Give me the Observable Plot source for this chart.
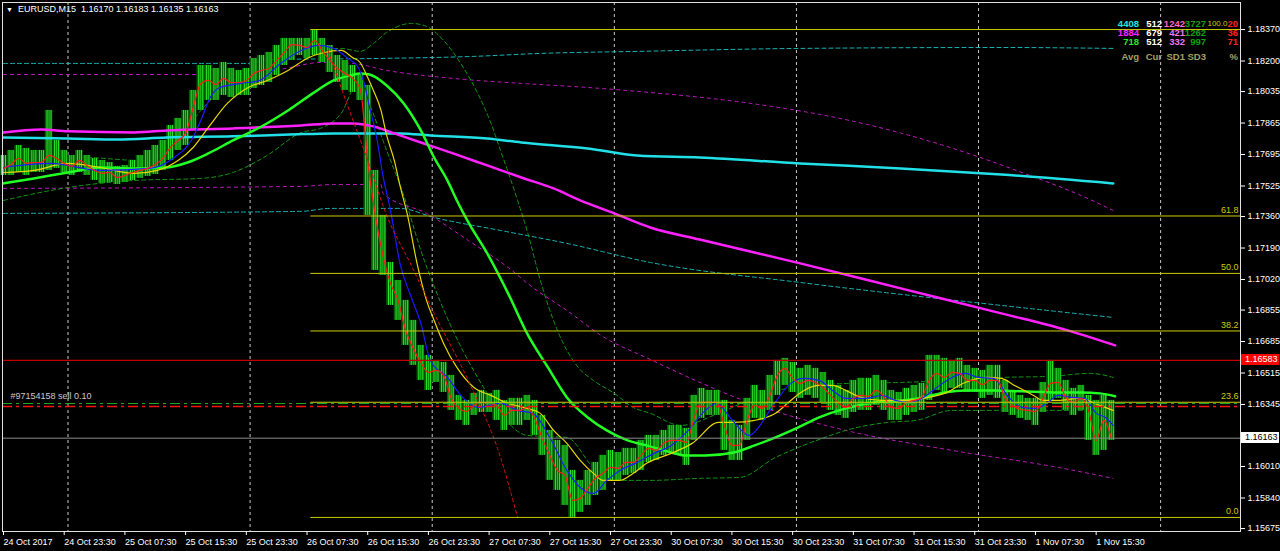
<!DOCTYPE html>
<html><head><meta charset="utf-8">
<script src="https://cdn.jsdelivr.net/npm/d3@7"></script>
<script src="https://cdn.jsdelivr.net/npm/@observablehq/plot@0.6"></script>
<style>
html,body{margin:0;padding:0;background:#000;overflow:hidden;}
#wrap{position:relative;width:1280px;height:551px;font-family:"Liberation Sans",Arial,sans-serif;}
.ov{position:absolute;white-space:nowrap;line-height:10px;}
</style></head>
<body><div id="wrap"></div>
<script>
// ---------- DATA ----------
const timeTickIdx = [0,32,64,96,128,160,192,224,256,288,320,352,384,416,448,480,512,544,576];
const timeLabels = ["24 Oct 2017","24 Oct 23:30","25 Oct 07:30","25 Oct 15:30","25 Oct 23:30","26 Oct 07:30","26 Oct 15:30","26 Oct 23:30","27 Oct 07:30","27 Oct 15:30","27 Oct 23:30","30 Oct 07:30","30 Oct 15:30","30 Oct 23:30","31 Oct 07:30","31 Oct 15:30","31 Oct 23:30","1 Nov 07:30","1 Nov 15:30"];
const midnightIdx = [34,130,226,322,418,514,610];
const yTicks = [1.18370,1.18200,1.18035,1.17865,1.17695,1.17525,1.17360,1.17190,1.17020,1.16855,1.16685,1.16515,1.16345,1.16010,1.15840,1.15675];

const barStep = 4; // one entry per hour (4 x M15 bars)
const barHigh = [1.17690,1.17717,1.17744,1.17728,1.17717,1.17717,1.17933,1.17771,1.17717,1.17690,
1.17717,1.17690,1.17674,1.17663,1.17652,1.17631,1.17636,1.17663,1.17690,1.17717,
1.17744,1.17771,1.17852,1.17890,1.17933,1.18041,1.18176,1.18176,1.18160,1.18192,
1.18160,1.18149,1.18160,1.18214,1.18230,1.18246,1.18284,1.18322,1.18322,1.18322,
1.18322,1.18365,1.18322,1.18284,1.18230,1.18203,1.18176,1.18122,1.18068,1.17609,
1.17366,1.17112,1.17015,1.16907,1.16799,1.16664,1.16610,1.16583,1.16572,1.16502,
1.16394,1.16367,1.16405,1.16421,1.16405,1.16421,1.16367,1.16378,1.16378,1.16394,
1.16367,1.16286,1.16205,1.16151,1.16124,1.15989,1.15935,1.15989,1.16032,1.16070,
1.16097,1.16086,1.16108,1.16108,1.16151,1.16178,1.16178,1.16205,1.16232,1.16232,
1.16216,1.16394,1.16432,1.16421,1.16421,1.16367,1.16259,1.16232,1.16378,1.16448,
1.16421,1.16502,1.16583,1.16594,1.16572,1.16540,1.16556,1.16540,1.16518,1.16475,
1.16448,1.16421,1.16475,1.16486,1.16486,1.16502,1.16475,1.16421,1.16410,1.16432,
1.16448,1.16459,1.16610,1.16610,1.16594,1.16583,1.16594,1.16556,1.16540,1.16529,
1.16556,1.16556,1.16475,1.16410,1.16394,1.16378,1.16378,1.16464,1.16583,1.16540,
1.16475,1.16432,1.16448,1.16394,1.16367,1.16394,1.16367];
const barLow = [1.17582,1.17582,1.17598,1.17582,1.17598,1.17598,1.17609,1.17620,1.17598,1.17582,
1.17598,1.17582,1.17555,1.17539,1.17544,1.17533,1.17544,1.17555,1.17566,1.17577,
1.17587,1.17609,1.17663,1.17717,1.17744,1.17825,1.17933,1.17987,1.17987,1.18014,
1.18003,1.18014,1.18014,1.18052,1.18068,1.18084,1.18122,1.18176,1.18203,1.18230,
1.18214,1.18230,1.18192,1.18138,1.18084,1.18041,1.18030,1.17987,1.17366,1.17069,
1.17042,1.16880,1.16799,1.16664,1.16556,1.16475,1.16421,1.16464,1.16410,1.16313,
1.16259,1.16232,1.16286,1.16302,1.16302,1.16259,1.16205,1.16232,1.16232,1.16259,
1.16178,1.16070,1.15935,1.15881,1.15800,1.15735,1.15762,1.15800,1.15854,1.15881,
1.15935,1.15935,1.15962,1.15973,1.15989,1.16032,1.16043,1.16070,1.16086,1.16070,
1.16016,1.16151,1.16270,1.16286,1.16286,1.16097,1.16043,1.16043,1.16151,1.16270,
1.16259,1.16313,1.16394,1.16448,1.16410,1.16378,1.16394,1.16378,1.16356,1.16313,
1.16286,1.16270,1.16302,1.16313,1.16313,1.16340,1.16313,1.16259,1.16259,1.16286,
1.16302,1.16313,1.16367,1.16421,1.16410,1.16432,1.16432,1.16410,1.16410,1.16378,
1.16394,1.16378,1.16302,1.16286,1.16270,1.16259,1.16232,1.16302,1.16367,1.16378,
1.16313,1.16286,1.16313,1.16151,1.16070,1.16097,1.16151];
const barClose = [1.17620,1.17641,1.17674,1.17647,1.17652,1.17652,1.17690,1.17674,1.17647,1.17631,
1.17663,1.17636,1.17609,1.17593,1.17598,1.17571,1.17582,1.17598,1.17609,1.17620,
1.17641,1.17674,1.17733,1.17771,1.17809,1.17949,1.18079,1.18095,1.18073,1.18106,
1.18084,1.18084,1.18095,1.18133,1.18149,1.18160,1.18203,1.18246,1.18289,1.18284,
1.18273,1.18311,1.18257,1.18203,1.18160,1.18133,1.18106,1.18052,1.17663,1.17366,
1.17150,1.16999,1.16907,1.16745,1.16648,1.16572,1.16518,1.16529,1.16502,1.16378,
1.16324,1.16308,1.16340,1.16356,1.16351,1.16340,1.16286,1.16313,1.16313,1.16329,
1.16270,1.16162,1.16070,1.15989,1.15962,1.15827,1.15838,1.15892,1.15946,1.15973,
1.16005,1.16000,1.16032,1.16032,1.16070,1.16108,1.16097,1.16135,1.16151,1.16151,
1.16140,1.16270,1.16356,1.16356,1.16356,1.16232,1.16124,1.16124,1.16259,1.16340,
1.16324,1.16394,1.16502,1.16540,1.16486,1.16459,1.16475,1.16464,1.16437,1.16394,
1.16356,1.16329,1.16378,1.16394,1.16389,1.16421,1.16389,1.16329,1.16324,1.16356,
1.16367,1.16383,1.16475,1.16513,1.16491,1.16518,1.16513,1.16475,1.16475,1.16453,
1.16475,1.16475,1.16378,1.16340,1.16318,1.16313,1.16308,1.16378,1.16459,1.16464,
1.16383,1.16356,1.16378,1.16313,1.16151,1.16259,1.16163];

// indicator lines: [bar index, price]
const blueMA = [[0,1.17625],[25,1.17647],[51,1.17609],[77,1.17620],[90,1.17679],[99,1.17771],[104,1.17879],[109,1.18003],[114,1.18057],[125,1.18079],[135,1.18095],[146,1.18187],[157,1.18257],[166,1.18284],[174,1.18268],[181,1.18219],[187,1.18165],[190,1.18084],[193,1.17949],[197,1.17771],[200,1.17582],[204,1.17393],[209,1.17107],[215,1.16923],[220,1.16783],[225,1.16583],[234,1.16491],[242,1.16383],[250,1.16329],[262,1.16351],[271,1.16313],[279,1.16297],[288,1.16167],[297,1.15989],[304,1.15897],[311,1.15865],[318,1.15935],[325,1.15989],[333,1.16027],[343,1.16081],[352,1.16124],[361,1.16205],[370,1.16313],[376,1.16351],[383,1.16275],[389,1.16205],[393,1.16178],[398,1.16221],[405,1.16329],[415,1.16459],[422,1.16486],[430,1.16475],[437,1.16421],[444,1.16378],[455,1.16378],[463,1.16394],[470,1.16367],[478,1.16356],[485,1.16383],[492,1.16437],[500,1.16491],[507,1.16513],[514,1.16491],[522,1.16486],[530,1.16383],[537,1.16329],[544,1.16324],[550,1.16351],[556,1.16394],[563,1.16383],[570,1.16378],[576,1.16297],[581,1.16275],[585,1.16232]];
const yellowMA = [[0,1.17598],[16,1.17609],[34,1.17647],[51,1.17625],[69,1.17593],[81,1.17609],[92,1.17663],[100,1.17733],[108,1.17841],[118,1.17971],[129,1.18057],[139,1.18095],[150,1.18149],[160,1.18214],[169,1.18246],[178,1.18257],[184,1.18219],[188,1.18192],[192,1.18111],[195,1.18041],[199,1.17933],[202,1.17798],[206,1.17663],[209,1.17528],[213,1.17366],[218,1.17107],[223,1.16907],[227,1.16799],[232,1.16675],[239,1.16545],[248,1.16437],[257,1.16394],[266,1.16351],[276,1.16324],[283,1.16297],[290,1.16205],[297,1.16135],[304,1.16043],[311,1.15973],[316,1.15935],[325,1.15935],[332,1.15973],[339,1.16027],[352,1.16081],[363,1.16135],[377,1.16248],[385,1.16248],[396,1.16259],[407,1.16297],[415,1.16367],[422,1.16421],[430,1.16448],[437,1.16448],[444,1.16421],[452,1.16383],[463,1.16367],[474,1.16367],[485,1.16378],[496,1.16405],[507,1.16464],[518,1.16491],[526,1.16486],[533,1.16448],[543,1.16394],[548,1.16367],[556,1.16367],[567,1.16378],[578,1.16340],[585,1.16313]];
const greenMA = [[0,1.17539],[16,1.17566],[34,1.17598],[51,1.17625],[69,1.17620],[86,1.17625],[97,1.17652],[108,1.17701],[121,1.17771],[135,1.17841],[150,1.17933],[163,1.18025],[174,1.18095],[183,1.18122],[188,1.18133],[193,1.18127],[202,1.18068],[211,1.17971],[220,1.17825],[227,1.17679],[234,1.17555],[239,1.17447],[245,1.17330],[255,1.17161],[266,1.16945],[276,1.16729],[287,1.16545],[297,1.16383],[308,1.16275],[318,1.16205],[329,1.16151],[339,1.16124],[352,1.16086],[359,1.16070],[370,1.16070],[385,1.16086],[396,1.16124],[407,1.16167],[419,1.16221],[430,1.16275],[444,1.16324],[459,1.16356],[474,1.16367],[485,1.16383],[496,1.16410],[507,1.16421],[522,1.16421],[537,1.16416],[556,1.16410],[568,1.16410],[578,1.16405],[586,1.16389]];
const magentaMA = [[0,1.17814],[20,1.17830],[34,1.17820],[69,1.17814],[86,1.17825],[121,1.17836],[157,1.17852],[174,1.17863],[184,1.17863],[195,1.17847],[206,1.17809],[220,1.17760],[237,1.17701],[255,1.17636],[273,1.17571],[290,1.17512],[304,1.17447],[322,1.17377],[341,1.17301],[367,1.17236],[420,1.17107],[473,1.16972],[526,1.16837],[561,1.16745],[586,1.16664]];
const cyanMA = [[0,1.17787],[34,1.17782],[60,1.17776],[86,1.17787],[121,1.17793],[151,1.17803],[174,1.17809],[209,1.17809],[225,1.17798],[255,1.17782],[273,1.17760],[308,1.17728],[334,1.17690],[367,1.17679],[420,1.17647],[473,1.17620],[526,1.17587],[585,1.17539]];
const cyanUpper = [[0,1.18187],[130,1.18187],[141,1.18208],[199,1.18214],[248,1.18225],[283,1.18241],[334,1.18252],[420,1.18268],[526,1.18273],[585,1.18268]];
const cyanLower = [[0,1.17377],[157,1.17388],[172,1.17404],[209,1.17404],[227,1.17355],[262,1.17285],[297,1.17215],[341,1.17112],[420,1.17004],[526,1.16880],[585,1.16815]];
const magentaUpper = [[0,1.18127],[130,1.18127],[151,1.18165],[167,1.18192],[184,1.18187],[202,1.18149],[237,1.18106],[273,1.18079],[308,1.18057],[334,1.18036],[394,1.17971],[446,1.17879],[499,1.17733],[541,1.17582],[568,1.17474],[585,1.17393]];
const magentaLower = [[0,1.17512],[157,1.17523],[174,1.17533],[199,1.17533],[200,1.17485],[223,1.17377],[245,1.17231],[266,1.17085],[279,1.16977],[297,1.16853],[315,1.16718],[341,1.16588],[393,1.16356],[444,1.16205],[500,1.16097],[556,1.16005],[585,1.15946]];
const greenUpper = [[0,1.17663],[42,1.17679],[72,1.17663],[88,1.17717],[104,1.17933],[121,1.18095],[139,1.18192],[157,1.18257],[178,1.18268],[188,1.18252],[195,1.18295],[202,1.18354],[215,1.18403],[223,1.18387],[232,1.18311],[241,1.18187],[250,1.18025],[257,1.17863],[262,1.17717],[267,1.17571],[271,1.17447],[276,1.17285],[283,1.17015],[292,1.16745],[303,1.16545],[311,1.16475],[322,1.16405],[332,1.16329],[341,1.16297],[357,1.16232],[378,1.16302],[399,1.16394],[420,1.16443],[446,1.16459],[473,1.16464],[499,1.16475],[526,1.16491],[552,1.16497],[573,1.16513],[585,1.16491]];
const greenLower = [[0,1.17447],[34,1.17517],[69,1.17555],[104,1.17566],[121,1.17598],[139,1.17690],[157,1.17814],[167,1.17836],[178,1.17917],[187,1.18084],[192,1.17987],[202,1.17717],[211,1.17474],[220,1.17177],[230,1.16907],[255,1.16405],[262,1.16297],[276,1.16178],[297,1.16167],[311,1.16005],[324,1.15935],[341,1.15935],[367,1.15946],[388,1.15951],[407,1.16059],[419,1.16113],[433,1.16167],[444,1.16205],[466,1.16248],[481,1.16259],[500,1.16313],[526,1.16313],[585,1.16313]];
const redDashed = [[171,1.18257],[181,1.17971],[192,1.17663],[202,1.17366],[215,1.17096],[227,1.16837],[245,1.16475],[262,1.16059],[271,1.15735]];

const fibStartIdx = 162;
const fibLabels = ["0.0","23.6","38.2","50.0","61.8","100.0"];
const fibPrices = [1.15735,1.16357,1.16742,1.17053,1.17363,1.18370];
const levelPrice = 1.16583;   // red horizontal level
const bidPrice = 1.16163;     // last price line
const orderOpen = 1.16350;    // order line
const orderStop = 1.16334;    // dash-dot line
const orderLabel = "#97154158 sell 0.10";
const titleText = "EURUSD,M15  1.16170 1.16183 1.16135 1.16163";
const tableRows = [
  [["4408","#22e6e6"],["512","#ffffff"],["1242","#ff66cc"],["3727","#10a010"],["20","#ff2020"]],
  [["1884","#ff22ff"],["679","#ffffff"],["421","#ee77ee"],["1262","#10a010"],["36","#ff2020"]],
  [["718","#22ee22"],["512","#ffffff"],["332","#ee77ee"],["997","#10a010"],["71","#ff2020"]],
  [["Avg","#a0a060"],["Cur","#a0a060"],["SD1","#a0a060"],["SD3","#a0a060"],["%","#a0a060"]]
];

// ---------- BUILD ----------
const bars = barHigh.map((h,k)=>({i:k*barStep, h, l:barLow[k], c:barClose[k]}));
const pts = a => a.map(([i,p])=>({i,p}));
const labelOf = new Map(timeTickIdx.map((d,k)=>[d,timeLabels[k]]));
const X0 = -0.53, X1 = 652.1;
const dashLine = (arr, stroke, dash, w=1) => Plot.line(pts(arr), {x:"i", y:"p", stroke, strokeWidth:w, strokeDasharray:dash, curve:"monotone-x"});
const fibMain = fibLabels.slice(0,5), fibTop = fibLabels.slice(5);

const chart = Plot.plot({
  width:1280, height:551,
  marginLeft:2, marginRight:40, marginTop:2, marginBottom:20,
  style:{background:"#000", color:"#fff", fontFamily:"'Liberation Sans',Arial,sans-serif", fontSize:"9px"},
  x:{type:"linear", domain:[X0,X1], label:null},
  y:{type:"linear", domain:[1.15659,1.18516], label:null},
  marks:[
    Plot.ruleX(midnightIdx, {x:d=>d, stroke:"#c8c8c8", strokeDasharray:"3,3", strokeWidth:1}),
    dashLine(cyanUpper, "#18b4b4", "4,3"),
    dashLine(cyanLower, "#18b4b4", "4,3"),
    dashLine(magentaUpper, "#c418c4", "3,4"),
    dashLine(magentaLower, "#c418c4", "3,4"),
    dashLine(greenUpper, "#109a10", "4,3"),
    dashLine(greenLower, "#109a10", "4,3"),
    Plot.rect(bars, {x1:d=>d.i-2, x2:d=>d.i+2, y1:"l", y2:"h", fill:"#065c06"}),
    Plot.ruleX(bars, {x:"i", y1:"l", y2:"h", stroke:"#2cf02c", strokeWidth:1, dx:-2}),
    Plot.ruleX(bars, {x:"i", y1:"l", y2:"h", stroke:"#22d022", strokeWidth:1, dx:0}),
    Plot.ruleX(bars, {x:"i", y1:"l", y2:"h", stroke:"#2cf02c", strokeWidth:1, dx:2}),
    Plot.line(pts(cyanMA), {x:"i", y:"p", stroke:"#22e0e8", strokeWidth:2.5, curve:"monotone-x"}),
    Plot.line(pts(magentaMA), {x:"i", y:"p", stroke:"#ff22ff", strokeWidth:2.5, curve:"monotone-x"}),
    Plot.line(pts(greenMA), {x:"i", y:"p", stroke:"#22ff22", strokeWidth:2.5, curve:"monotone-x"}),
    Plot.line(pts(yellowMA), {x:"i", y:"p", stroke:"#e6d800", strokeWidth:1.2, curve:"monotone-x"}),
    Plot.line(pts(blueMA), {x:"i", y:"p", stroke:"#1a1aff", strokeWidth:1.2, curve:"monotone-x"}),
    Plot.line(bars, {x:"i", y:"c", stroke:"#ff1a1a", strokeWidth:1.2, curve:"monotone-x"}),
    dashLine(redDashed, "#e01010", "3,3"),
    Plot.ruleY([levelPrice], {y:d=>d, stroke:"#c00000", strokeWidth:1.2}),
    Plot.ruleY([bidPrice], {y:d=>d, stroke:"#8c8c8c", strokeWidth:1}),
    Plot.ruleY(fibPrices, {y:d=>d, x1:()=>fibStartIdx, x2:()=>X1, stroke:"#cccc00", strokeWidth:1}),
    Plot.ruleY([orderOpen], {y:d=>d, stroke:"#22b022", strokeDasharray:"10,4,3,4", strokeWidth:1}),
    Plot.ruleY([orderStop], {y:d=>d, stroke:"#ff1010", strokeDasharray:"10,4,3,4", strokeWidth:1.3}),
    Plot.text(fibMain, {y:(d,k)=>fibPrices[k], text:d=>d, frameAnchor:"right", dx:-2, dy:-6, textAnchor:"end", fill:"#cccc00", fontSize:9}),
    Plot.text(fibTop, {y:(d,k)=>fibPrices[5+k], text:d=>d, frameAnchor:"right", dx:-13, dy:-6, textAnchor:"end", fill:"#cccc00", fontSize:8}),
    Plot.text([orderLabel], {y:()=>orderOpen, text:d=>d, frameAnchor:"left", dx:8, dy:-7, textAnchor:"start", fill:"#c8c8c8", fontSize:9}),
    Plot.frame({stroke:"#e0e0e0", strokeWidth:1}),
    Plot.axisX(timeTickIdx, {tickFormat:d=>labelOf.get(d), textAnchor:"start", tickSize:4, tickPadding:3, fontSize:9, label:null}),
    Plot.axisY(yTicks, {anchor:"right", tickFormat:d=>d.toFixed(5), tickSize:4, tickPadding:3, fontSize:9, label:null})
  ]
});
const wrap = document.getElementById("wrap");
wrap.appendChild(chart);

// price tags on the right axis, placed with the chart's y scale
const ys = chart.scale("y");
function tag(price, bg, fg){
  const d = document.createElement("div");
  d.className="ov";
  d.textContent = price.toFixed(5);
  Object.assign(d.style,{left:"1241px", width:"38px", top:(ys.apply(price)-5.5)+"px", height:"11px", lineHeight:"11px", background:bg, color:fg, fontSize:"9px", paddingLeft:"4px", boxSizing:"border-box"});
  wrap.appendChild(d);
}
tag(levelPrice, "#ff0000", "#ffffff");
tag(bidPrice, "#ffffff", "#000000");

// title
const t = document.createElement("div");
t.className="ov";
t.innerHTML = '<span style="font-size:7px;margin-right:5px">&#9660;</span>' + titleText.replace(/ /g,"&nbsp;");
Object.assign(t.style,{left:"6px", top:"4px", color:"#fff", fontSize:"9px"});
wrap.appendChild(t);

// info table
const colRight = [1139,1162,1185,1206,1238];
const rowTop = [19,28,37,52];
tableRows.forEach((row,r)=>row.forEach(([txt,col],c)=>{
  const d = document.createElement("div");
  d.className="ov"; d.textContent = txt;
  Object.assign(d.style,{right:(1280-colRight[c])+"px", top:rowTop[r]+"px", color:col, fontSize:"9.5px", fontWeight:"bold"});
  wrap.appendChild(d);
}));
</script></body></html>
